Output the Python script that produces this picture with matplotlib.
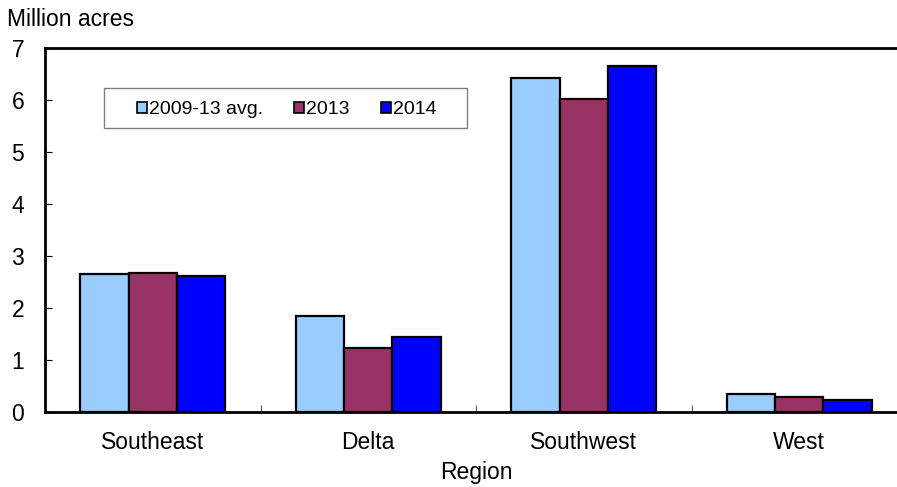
import numpy as np
import matplotlib.pyplot as plt
from matplotlib.patches import Rectangle

plt.rcParams['font.family'] = ['Liberation Sans', 'DejaVu Sans']

regions = ['Southeast', 'Delta', 'Southwest', 'West']
series = ['2009-13 avg.', '2013', '2014']
avg_0913 = [2.65, 1.85, 6.42, 0.35]
y2013 = [2.67, 1.23, 6.01, 0.29]
y2014 = [2.61, 1.44, 6.66, 0.23]
colors = ['#99ccff', '#993366', '#0000ff']

fig = plt.figure(figsize=(8.97, 4.87), dpi=100)
ax = fig.add_axes([0.0502, 0.154, 0.961, 0.7474])

x = np.arange(len(regions))
w = 0.224
for i, (vals, c, lab) in enumerate(zip([avg_0913, y2013, y2014], colors, series)):
    ax.bar(x + (i - 1) * w, vals, w, color=c, edgecolor='black', linewidth=1.6,
           label=lab, zorder=3)

ax.set_xlim(-0.5, 3.5)
ax.set_ylim(0, 7)
ax.set_yticks(range(8))
ax.set_xticks(x)
ax.set_xticklabels(regions)
ax.set_xticks(np.arange(0.5, 3.5, 1), minor=True)
ax.tick_params(axis='x', which='major', length=0, labelsize=16.5, pad=14)
ax.tick_params(axis='x', which='minor', direction='in', length=5, width=0.8, color='#555555')
ax.tick_params(axis='y', direction='in', length=5, width=0.8, labelsize=16.5, pad=15)
for s in ['left', 'top', 'bottom']:
    ax.spines[s].set_linewidth(2)
ax.spines['right'].set_visible(False)

ax.set_xlabel('Region', fontsize=16.5, labelpad=5)
fig.text(0.008, 0.959, 'Million acres', fontsize=16.5, ha='left', va='center')

# legend frame drawn by hand so the padding matches
ax.add_patch(Rectangle((0.0684, 0.780), 0.4212, 0.110, transform=ax.transAxes,
                       facecolor='white', edgecolor='#808080', linewidth=1, zorder=4))
leg = ax.legend(loc='center left', bbox_to_anchor=(0.1067, 0.830), ncol=3,
                fontsize=14, frameon=False, borderaxespad=0, borderpad=0,
                handlelength=0.5, handleheight=0.5, handletextpad=0.1,
                columnspacing=1.62)
leg.set_zorder(5)
for h in leg.legend_handles:
    h.set_linewidth(1.2)

fig.savefig('out.png', dpi=100)
